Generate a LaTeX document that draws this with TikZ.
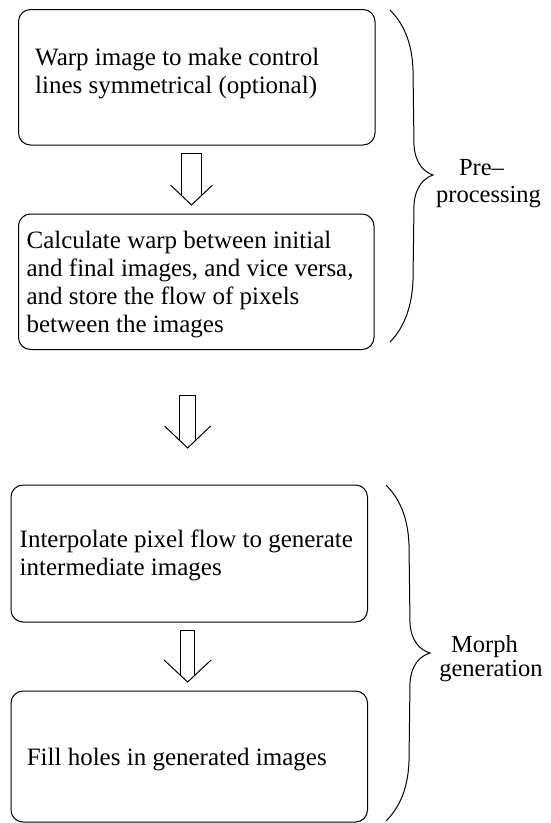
\documentclass[tikz,border=0pt]{standalone}
\usepackage{fontspec}
\setmainfont{Liberation Serif}
\newcommand\hollowarrow[6]{% cx, ytop, yhead, ytip, shaft half width, head half width
  \pgfmathsetmacro\hyI{#3+(#6-#5)/#6*(#4-#3)}
  \draw[shapeline] (#1-#5,\hyI) -- (#1-#5,#2) -- (#1+#5,#2) -- (#1+#5,\hyI);
  \draw[shapeline] (#1-#6,#3) -- (#1,#4) -- (#1+#6,#3);
}
\begin{document}
\begin{tikzpicture}[x=1pt,y=-1pt,
  shapeline/.style={line width=1pt, line join=miter},
  box/.style={draw, rounded corners=12pt, inner sep=0pt, line width=1pt},
  txt/.style={anchor=north west, inner sep=0pt, align=left, font=\fontsize{25}{28}\selectfont},
  lbl/.style={anchor=north, inner sep=0pt, align=center}]
\useasboundingbox (0,0) rectangle (550,823);

% boxes
\node[box, minimum width=356.5pt, minimum height=135.5pt] (b1) at (196.75,77.25) {};
\node[box, minimum width=355.5pt, minimum height=135.5pt] (b2) at (196.25,281.75) {};
\node[box, minimum width=356.5pt, minimum height=137pt] (b3) at (189.25,553.5) {};
\node[box, minimum width=356.5pt, minimum height=131pt] (b4) at (189.25,756.5) {};

% texts
\node[txt] (t1) at (35,48.4) {Warp image to make control\\lines symmetrical (optional)};
\node[txt] (t2) at (26.4,230.9) {Calculate warp between initial\\and final images, and vice versa,\\and store the flow of pixels\\between the images};
\node[txt] (t3) at (19.5,529.9) {Interpolate pixel flow to generate\\intermediate images};
\node[txt] (t4) at (26.6,747.9) {Fill holes in generated images};

% hollow arrows
\hollowarrow{191.5}{153}{185}{205}{10}{21}
\hollowarrow{187.6}{395}{426}{448}{7.8}{23}
\hollowarrow{187.6}{630}{660}{682}{7}{23.5}

% braces
\draw[shapeline] (390,10) .. controls (402,22) and (412,40) .. (413,70) -- (414,145)
  .. controls (415,163) and (424,172) .. (433,175)
  .. controls (424,178) and (415,187) .. (414,205) -- (413,280)
  .. controls (412,310) and (402,330) .. (390,342);
\draw[shapeline] (386,485) .. controls (398,497) and (408,515) .. (409,545) -- (410,623)
  .. controls (411,641) and (420,650) .. (430,653)
  .. controls (420,656) and (411,665) .. (410,683) -- (409,761)
  .. controls (408,791) and (398,809) .. (386,821);

% labels
\node[lbl, font=\fontsize{24.5}{27}\selectfont] (pre) at (488.5,158.8) {Pre–\rule{14pt}{0pt}\\processing};
\node[lbl, font=\fontsize{24.5}{23.5}\selectfont] (morph) at (491,635.3) {Morph\rule{13pt}{0pt}\\generation};
\end{tikzpicture}
\end{document}
